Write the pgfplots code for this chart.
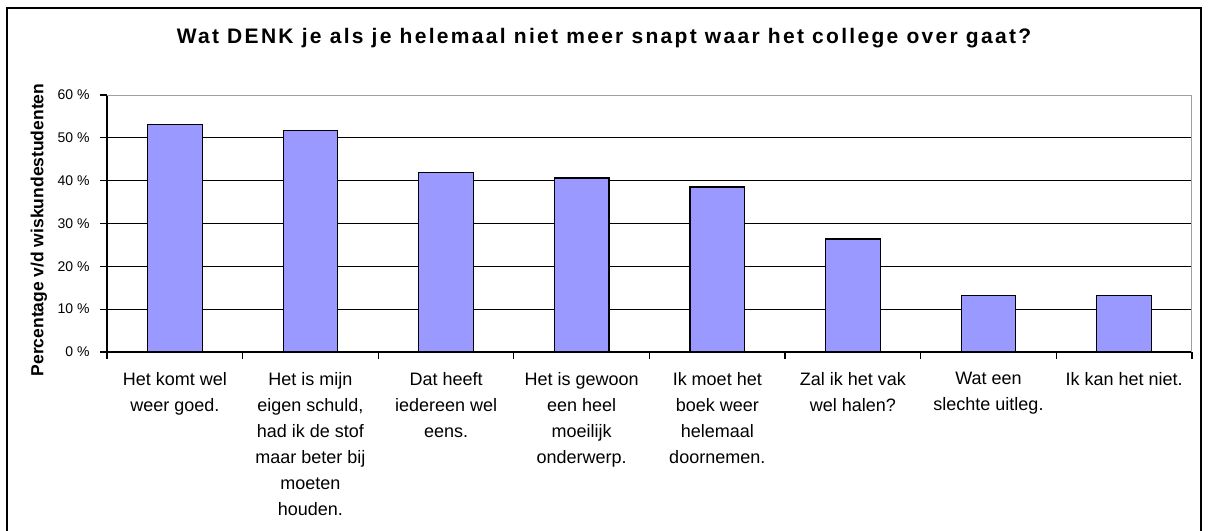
\documentclass[border=0pt]{standalone}
\usepackage{fontspec}
\setmainfont{Liberation Sans}
\newfontfamily\titlefont[LetterSpace=11]{Liberation Sans}
\usepackage{pgfplots}
\pgfplotsset{compat=1.18}
\definecolor{barblue}{HTML}{9999FF}
\definecolor{bordergray}{HTML}{A0A0A0}

\begin{document}
\begin{tikzpicture}[x=1bp,y=1bp]
\useasboundingbox (-107bp,-179bp) rectangle (1101bp,352bp);
% outer chart frame
\draw[line width=1.5bp] (-100bp,-185bp) -- (-100bp,344bp) -- (1094bp,344bp) -- (1094bp,-185bp);
\node[anchor=base] at (497bp,308.5bp) {\titlefont\bfseries\fontsize{21bp}{24bp}\selectfont Wat DENK je als je helemaal niet meer snapt waar het college over gaat?};
\node[rotate=90] at (-68bp,122bp) {\bfseries\fontsize{17.5bp}{20bp}\selectfont Percentage v/d wiskundestudenten};
\begin{axis}[
  at={(0,0)}, anchor=south west,
  scale only axis,
  width=1085bp, height=257bp,
  xmin=-0.5, xmax=7.5,
  ymin=0, ymax=60,
  axis x line*=bottom,
  axis y line*=left,
  axis line style={-, black, line width=1.2bp},
  ybar, bar width=54.6bp,
  xtick={-0.5,0.5,...,7.5},
  x tick label as interval,
  xticklabels={
    {Het komt wel\\weer goed.},
    {Het is mijn\\eigen schuld,\\had ik de stof\\maar beter bij\\moeten\\houden.},
    {Dat heeft\\iedereen wel\\eens.},
    {Het is gewoon\\een heel\\moeilijk\\onderwerp.},
    {Ik moet het\\boek weer\\helemaal\\doornemen.},
    {Zal ik het vak\\wel halen?},
    {Wat een\\slechte uitleg.},
    {Ik kan het niet.}},
  xticklabel style={align=center, font=\fontsize{18bp}{26bp}\selectfont, yshift=-10bp},
  ytick={0,10,...,50},
  yticklabels={0 \%,10 \%,20 \%,30 \%,40 \%,50 \%},
  extra y ticks={60},
  extra y tick labels={60 \%},
  extra y tick style={grid=none},
  yticklabel style={font=\fontsize{14bp}{16bp}\selectfont, xshift=-7bp},
  tick style={black, line width=1.2bp},
  tick align=outside,
  major tick length=7bp,
  ymajorgrids,
  grid style={black, line width=1.2bp},
]
\addplot[fill=barblue, draw=black, line width=1.2bp] coordinates {
(0,53.2) (1,51.8) (2,42.0) (3,40.6) (4,38.5) (5,26.4) (6,13.2) (7,13.2)
};
\draw[bordergray, line width=1.2bp] (rel axis cs:0,1) -- (rel axis cs:1,1) -- (rel axis cs:1,0);
\end{axis}
\end{tikzpicture}
\end{document}
